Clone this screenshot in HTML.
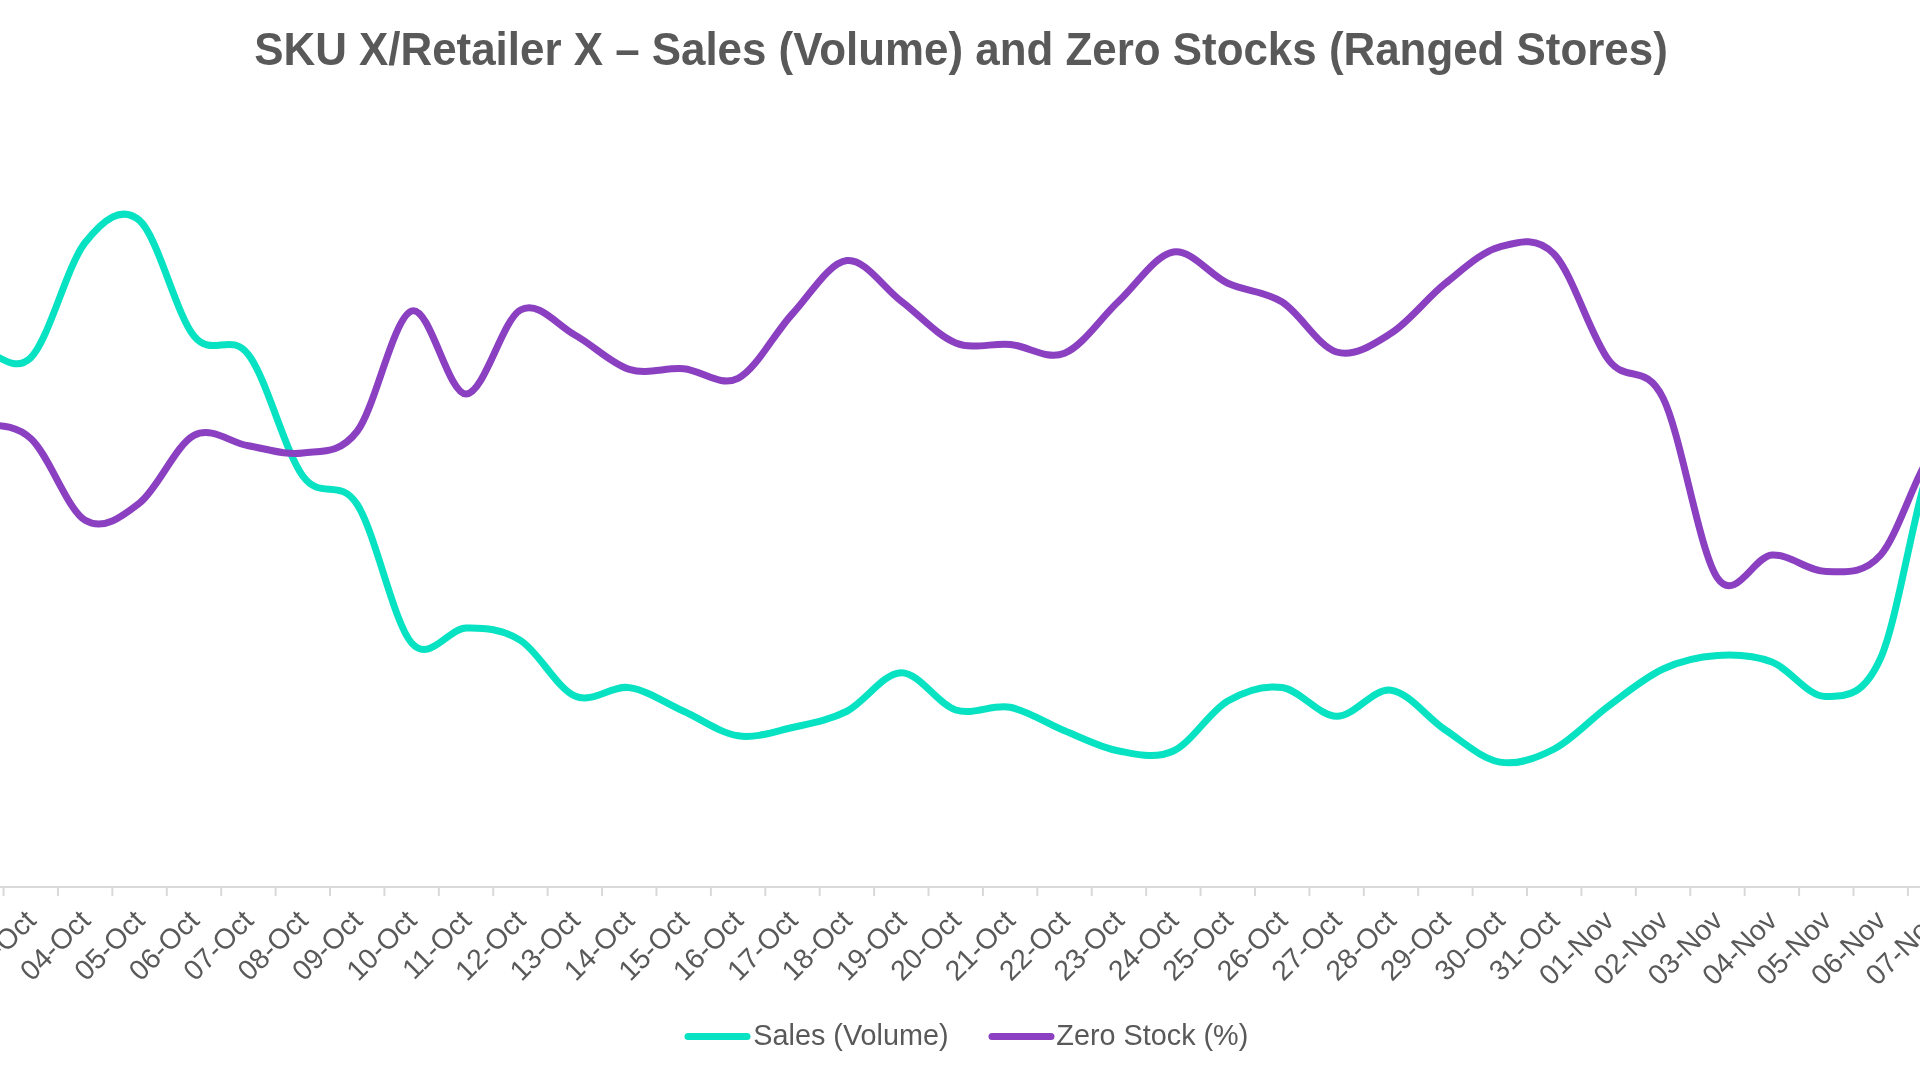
<!DOCTYPE html>
<html><head><meta charset="utf-8"><title>SKU X/Retailer X – Sales (Volume) and Zero Stocks (Ranged Stores)</title>
<style>
html,body{margin:0;padding:0;background:#fff;}
body{width:1920px;height:1080px;overflow:hidden;position:relative;font-family:"Liberation Sans",Arial,sans-serif;}
svg{position:absolute;left:0;top:0;display:block;}
.gs{filter:grayscale(1);}
</style></head><body>
<svg width="1920" height="1080" viewBox="0 0 1920 1080">
<rect width="1920" height="1080" fill="#fff"/>
<text class="gs" transform="translate(961,64.7) scale(0.9585,1)" text-anchor="middle" font-family="Liberation Sans, Arial, sans-serif" font-weight="bold" font-size="45.8" fill="#595959">SKU X/Retailer X – Sales (Volume) and Zero Stocks (Ranged Stores)</text>
<g stroke="#d9d9d9" stroke-width="2" fill="none">
<line x1="0" y1="887" x2="1920" y2="887"/>
<line x1="-50.86" y1="887" x2="-50.86" y2="896"/><line x1="3.55" y1="887" x2="3.55" y2="896"/><line x1="57.96" y1="887" x2="57.96" y2="896"/><line x1="112.37" y1="887" x2="112.37" y2="896"/><line x1="166.78" y1="887" x2="166.78" y2="896"/><line x1="221.19" y1="887" x2="221.19" y2="896"/><line x1="275.60" y1="887" x2="275.60" y2="896"/><line x1="330.01" y1="887" x2="330.01" y2="896"/><line x1="384.42" y1="887" x2="384.42" y2="896"/><line x1="438.83" y1="887" x2="438.83" y2="896"/><line x1="493.24" y1="887" x2="493.24" y2="896"/><line x1="547.65" y1="887" x2="547.65" y2="896"/><line x1="602.06" y1="887" x2="602.06" y2="896"/><line x1="656.47" y1="887" x2="656.47" y2="896"/><line x1="710.88" y1="887" x2="710.88" y2="896"/><line x1="765.29" y1="887" x2="765.29" y2="896"/><line x1="819.70" y1="887" x2="819.70" y2="896"/><line x1="874.11" y1="887" x2="874.11" y2="896"/><line x1="928.52" y1="887" x2="928.52" y2="896"/><line x1="982.93" y1="887" x2="982.93" y2="896"/><line x1="1037.34" y1="887" x2="1037.34" y2="896"/><line x1="1091.75" y1="887" x2="1091.75" y2="896"/><line x1="1146.16" y1="887" x2="1146.16" y2="896"/><line x1="1200.57" y1="887" x2="1200.57" y2="896"/><line x1="1254.98" y1="887" x2="1254.98" y2="896"/><line x1="1309.39" y1="887" x2="1309.39" y2="896"/><line x1="1363.80" y1="887" x2="1363.80" y2="896"/><line x1="1418.21" y1="887" x2="1418.21" y2="896"/><line x1="1472.62" y1="887" x2="1472.62" y2="896"/><line x1="1527.03" y1="887" x2="1527.03" y2="896"/><line x1="1581.44" y1="887" x2="1581.44" y2="896"/><line x1="1635.85" y1="887" x2="1635.85" y2="896"/><line x1="1690.26" y1="887" x2="1690.26" y2="896"/><line x1="1744.67" y1="887" x2="1744.67" y2="896"/><line x1="1799.08" y1="887" x2="1799.08" y2="896"/><line x1="1853.49" y1="887" x2="1853.49" y2="896"/><line x1="1907.90" y1="887" x2="1907.90" y2="896"/><line x1="1962.31" y1="887" x2="1962.31" y2="896"/>
</g>
<g class="gs" font-family="Liberation Sans, Arial, sans-serif" font-size="28.4" fill="#595959">
<text text-anchor="end" transform="translate(37.55,922.1) rotate(-45)">03-Oct</text>
<text text-anchor="end" transform="translate(91.96,922.1) rotate(-45)">04-Oct</text>
<text text-anchor="end" transform="translate(146.37,922.1) rotate(-45)">05-Oct</text>
<text text-anchor="end" transform="translate(200.78,922.1) rotate(-45)">06-Oct</text>
<text text-anchor="end" transform="translate(255.19,922.1) rotate(-45)">07-Oct</text>
<text text-anchor="end" transform="translate(309.60,922.1) rotate(-45)">08-Oct</text>
<text text-anchor="end" transform="translate(364.01,922.1) rotate(-45)">09-Oct</text>
<text text-anchor="end" transform="translate(418.42,922.1) rotate(-45)">10-Oct</text>
<text text-anchor="end" transform="translate(472.83,922.1) rotate(-45)">11-Oct</text>
<text text-anchor="end" transform="translate(527.24,922.1) rotate(-45)">12-Oct</text>
<text text-anchor="end" transform="translate(581.65,922.1) rotate(-45)">13-Oct</text>
<text text-anchor="end" transform="translate(636.06,922.1) rotate(-45)">14-Oct</text>
<text text-anchor="end" transform="translate(690.47,922.1) rotate(-45)">15-Oct</text>
<text text-anchor="end" transform="translate(744.88,922.1) rotate(-45)">16-Oct</text>
<text text-anchor="end" transform="translate(799.29,922.1) rotate(-45)">17-Oct</text>
<text text-anchor="end" transform="translate(853.70,922.1) rotate(-45)">18-Oct</text>
<text text-anchor="end" transform="translate(908.11,922.1) rotate(-45)">19-Oct</text>
<text text-anchor="end" transform="translate(962.52,922.1) rotate(-45)">20-Oct</text>
<text text-anchor="end" transform="translate(1016.93,922.1) rotate(-45)">21-Oct</text>
<text text-anchor="end" transform="translate(1071.34,922.1) rotate(-45)">22-Oct</text>
<text text-anchor="end" transform="translate(1125.75,922.1) rotate(-45)">23-Oct</text>
<text text-anchor="end" transform="translate(1180.16,922.1) rotate(-45)">24-Oct</text>
<text text-anchor="end" transform="translate(1234.57,922.1) rotate(-45)">25-Oct</text>
<text text-anchor="end" transform="translate(1288.98,922.1) rotate(-45)">26-Oct</text>
<text text-anchor="end" transform="translate(1343.39,922.1) rotate(-45)">27-Oct</text>
<text text-anchor="end" transform="translate(1397.80,922.1) rotate(-45)">28-Oct</text>
<text text-anchor="end" transform="translate(1452.21,922.1) rotate(-45)">29-Oct</text>
<text text-anchor="end" transform="translate(1506.62,922.1) rotate(-45)">30-Oct</text>
<text text-anchor="end" transform="translate(1561.03,922.1) rotate(-45)">31-Oct</text>
<text text-anchor="end" transform="translate(1615.44,922.1) rotate(-45)">01-Nov</text>
<text text-anchor="end" transform="translate(1669.85,922.1) rotate(-45)">02-Nov</text>
<text text-anchor="end" transform="translate(1724.26,922.1) rotate(-45)">03-Nov</text>
<text text-anchor="end" transform="translate(1778.67,922.1) rotate(-45)">04-Nov</text>
<text text-anchor="end" transform="translate(1833.08,922.1) rotate(-45)">05-Nov</text>
<text text-anchor="end" transform="translate(1887.49,922.1) rotate(-45)">06-Nov</text>
<text text-anchor="end" transform="translate(1941.90,922.1) rotate(-45)">07-Nov</text>
</g>
<g fill="none" stroke-width="7" stroke-linecap="round" stroke-linejoin="round">
<path stroke="#06E2C2" d="M-78.07,348.00 C-69.00,348.00 -41.80,346.38 -23.66,348.00 C-5.52,349.62 12.61,375.28 30.75,357.70 C48.89,340.12 67.02,265.37 85.16,242.50 C103.30,219.63 121.43,204.92 139.57,220.50 C157.71,236.08 175.84,313.65 193.98,336.00 C212.12,358.35 230.25,331.27 248.39,354.60 C266.53,377.93 284.66,451.02 302.80,476.00 C320.94,500.98 339.07,476.67 357.21,504.50 C375.35,532.33 393.48,622.42 411.62,643.00 C429.76,663.58 447.89,628.43 466.03,628.00 C484.17,627.57 502.30,629.07 520.44,640.40 C538.58,651.73 556.71,688.13 574.85,696.00 C592.99,703.87 611.12,685.06 629.26,687.60 C647.40,690.14 665.53,703.22 683.67,711.25 C701.81,719.28 719.94,733.09 738.08,735.80 C756.22,738.51 774.35,731.59 792.49,727.50 C810.63,723.41 828.76,720.38 846.90,711.25 C865.04,702.12 883.17,672.91 901.31,672.70 C919.45,672.49 937.58,704.23 955.72,710.00 C973.86,715.77 991.99,703.83 1010.13,707.30 C1028.27,710.77 1046.40,723.52 1064.54,730.80 C1082.68,738.08 1100.81,747.63 1118.95,751.00 C1137.09,754.37 1155.22,759.33 1173.36,751.00 C1191.50,742.67 1209.63,711.58 1227.77,701.00 C1245.91,690.42 1264.04,684.96 1282.18,687.50 C1300.32,690.04 1318.45,715.80 1336.59,716.25 C1354.73,716.70 1372.86,687.91 1391.00,690.20 C1409.14,692.49 1427.27,718.02 1445.41,730.00 C1463.55,741.98 1481.68,758.93 1499.82,762.10 C1517.96,765.27 1536.09,758.35 1554.23,749.00 C1572.37,739.65 1590.50,719.33 1608.64,706.00 C1626.78,692.67 1644.91,677.42 1663.05,669.00 C1681.19,660.58 1699.32,656.67 1717.46,655.50 C1735.60,654.33 1753.73,655.17 1771.87,662.00 C1790.01,668.83 1808.14,697.17 1826.28,696.50 C1844.42,695.83 1862.55,698.54 1880.69,658.00 C1898.83,617.46 1916.96,487.38 1935.10,453.25 C1953.24,419.12 1980.44,453.25 1989.51,453.25"/>
<path stroke="#8A40C0" d="M-78.07,424.00 C-69.00,424.00 -41.80,421.58 -23.66,424.00 C-5.52,426.42 12.61,422.45 30.75,438.50 C48.89,454.55 67.02,509.55 85.16,520.30 C103.30,531.05 121.43,517.15 139.57,503.00 C157.71,488.85 175.84,444.93 193.98,435.40 C212.12,425.87 230.25,442.87 248.39,445.80 C266.53,448.73 284.66,455.43 302.80,453.00 C320.94,450.57 339.07,454.92 357.21,431.25 C375.35,407.58 393.48,317.21 411.62,311.00 C429.76,304.79 447.89,394.17 466.03,394.00 C484.17,393.83 502.30,319.83 520.44,310.00 C538.58,300.17 556.71,325.10 574.85,335.00 C592.99,344.90 611.12,363.77 629.26,369.40 C647.40,375.02 665.53,367.27 683.67,368.75 C701.81,370.23 719.94,387.47 738.08,378.30 C756.22,369.13 774.35,333.37 792.49,313.75 C810.63,294.13 828.76,262.68 846.90,260.60 C865.04,258.52 883.17,287.53 901.31,301.25 C919.45,314.97 937.58,335.71 955.72,342.90 C973.86,350.09 991.99,342.68 1010.13,344.40 C1028.27,346.12 1046.40,360.43 1064.54,353.20 C1082.68,345.97 1100.81,317.87 1118.95,301.00 C1137.09,284.13 1155.22,254.95 1173.36,252.00 C1191.50,249.05 1209.63,274.97 1227.77,283.30 C1245.91,291.63 1264.04,290.55 1282.18,302.00 C1300.32,313.45 1318.45,346.78 1336.59,352.00 C1354.73,357.22 1372.86,344.75 1391.00,333.30 C1409.14,321.85 1427.27,297.70 1445.41,283.30 C1463.55,268.90 1481.68,251.75 1499.82,246.90 C1517.96,242.05 1536.09,235.35 1554.23,254.20 C1572.37,273.05 1590.50,336.03 1608.64,360.00 C1626.78,383.97 1644.91,361.67 1663.05,398.00 C1681.19,434.33 1699.32,551.83 1717.46,578.00 C1735.60,604.17 1753.73,556.08 1771.87,555.00 C1790.01,553.92 1808.14,571.50 1826.28,571.50 C1844.42,571.50 1862.55,575.25 1880.69,555.00 C1898.83,534.75 1916.96,467.50 1935.10,450.00 C1953.24,432.50 1980.44,450.00 1989.51,450.00"/>
</g>
<g font-family="Liberation Sans, Arial, sans-serif" font-size="28.8" fill="#595959">
<line x1="688" y1="1036.6" x2="747" y2="1036.6" stroke="#06E2C2" stroke-width="7" stroke-linecap="round"/>
<text class="gs" x="753.3" y="1045">Sales (Volume)</text>
<line x1="992" y1="1036.6" x2="1051" y2="1036.6" stroke="#8A40C0" stroke-width="7" stroke-linecap="round"/>
<text class="gs" x="1056.3" y="1045">Zero Stock (%)</text>
</g>
</svg>
</body></html>
